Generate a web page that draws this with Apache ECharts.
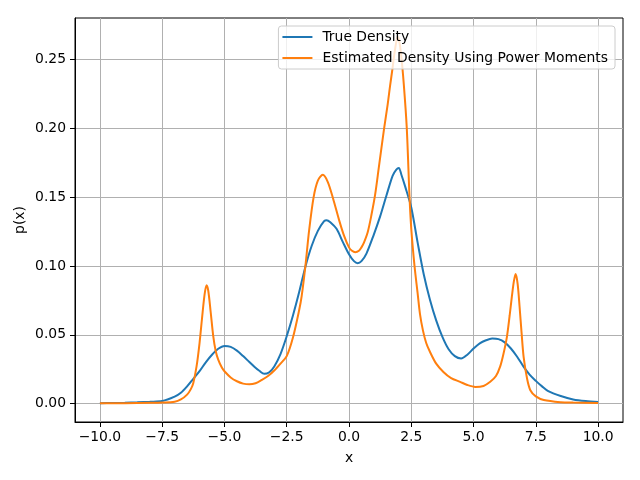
<!DOCTYPE html>
<html lang="en">
<head>
    <meta charset="UTF-8">
    <title>True vs Estimated Density</title>
    <script src="https://cdn.jsdelivr.net/npm/echarts@6/dist/echarts.min.js"></script>
    <style>
        html, body { margin: 0; padding: 0; background: #fff; }
        #chart { width: 640px; height: 480px; }
    </style>
</head>
<body>
<div id="chart"></div>
<script>
    // tick positions
    var xTicks = [-10, -7.5, -5, -2.5, 0, 2.5, 5, 7.5, 10];
    var yTicks = [0, 0.05, 0.10, 0.15, 0.20, 0.25];

    // True Density
    var trueX = [-10, -9.5, -9, -8.5, -8, -7.5, -7, -6.75, -6.5, -6.25, -6, -5.75, -5.5, -5.25, -5,
        -4.75, -4.5, -4.25, -4, -3.8, -3.6, -3.4, -3.2, -3, -2.75, -2.5, -2.25, -2, -1.75, -1.5,
        -1.25, -1, -0.9, -0.75, -0.5, -0.25, 0, 0.2, 0.35, 0.5, 0.7, 1, 1.25, 1.5, 1.75, 1.9, 2, 2.1,
        2.25, 2.5, 2.75, 3, 3.25, 3.5, 3.75, 4, 4.25, 4.5, 4.75, 5, 5.25, 5.5, 5.75, 6, 6.25, 6.5,
        6.75, 7, 7.25, 7.5, 7.75, 8, 8.5, 9, 9.5, 10];
    var trueY = [0.0003, 0.0004, 0.0006, 0.0009, 0.0013, 0.0018, 0.005, 0.0078, 0.0125, 0.018,
        0.0235, 0.030, 0.0355, 0.0398, 0.0418, 0.0412, 0.0385, 0.0345, 0.0302, 0.0268, 0.0238,
        0.0216, 0.0228, 0.027, 0.036, 0.049, 0.064, 0.081, 0.0995, 0.1145, 0.1255, 0.1325, 0.1333,
        0.1318, 0.127, 0.1175, 0.1085, 0.1035, 0.102, 0.1035, 0.109, 0.123, 0.136, 0.151, 0.1655,
        0.170, 0.1712, 0.1665, 0.158, 0.1425, 0.1175, 0.094, 0.0755, 0.0605, 0.0485, 0.0395, 0.0345,
        0.0328, 0.0355, 0.040, 0.0438, 0.046, 0.0472, 0.0468, 0.0445, 0.040, 0.034, 0.027, 0.021,
        0.0165, 0.0125, 0.009, 0.0055, 0.003, 0.0018, 0.0012];

    // Estimated Density Using Power Moments
    var estX = [-10, -9, -8, -7.5, -7, -6.75, -6.5, -6.35, -6.25, -6.12, -6, -5.9, -5.8, -5.72, -5.65,
        -5.55, -5.45, -5.35, -5.25, -5.1, -5, -4.75, -4.5, -4.25, -4, -3.75, -3.5, -3.25, -3, -2.75,
        -2.5, -2.25, -2, -1.9, -1.75, -1.6, -1.42, -1.25, -1.05, -0.85, -0.64, -0.4, -0.2, 0, 0.12,
        0.25, 0.4, 0.5, 0.6, 0.75, 0.9, 1.05, 1.2, 1.41, 1.55, 1.65, 1.75, 1.82, 1.9, 1.95, 2, 2.09,
        2.2, 2.32, 2.43, 2.5, 2.63, 2.75, 2.85, 2.97, 3.1, 3.24, 3.5, 3.79, 4.1, 4.46, 4.75, 5.07,
        5.4, 5.67, 5.9, 6.07, 6.2, 6.34, 6.45, 6.54, 6.62, 6.69, 6.77, 6.85, 6.93, 7.01, 7.15, 7.28,
        7.5, 7.82, 8.5, 9, 10];
    var estY = [0.0002, 0.0003, 0.0005, 0.0007, 0.0013, 0.003, 0.0065, 0.0105, 0.015, 0.027, 0.044,
        0.062, 0.079, 0.086, 0.082, 0.066, 0.049, 0.038, 0.032, 0.026, 0.0235, 0.019, 0.0162,
        0.0145, 0.014, 0.0148, 0.0172, 0.020, 0.024, 0.029, 0.0345, 0.048, 0.068, 0.078, 0.100,
        0.126, 0.150, 0.162, 0.1662, 0.161, 0.149, 0.1335, 0.122, 0.1135, 0.111, 0.110, 0.111,
        0.1135, 0.117, 0.1245, 0.137, 0.152, 0.172, 0.200, 0.217, 0.231, 0.244, 0.254, 0.263,
        0.2665, 0.265, 0.254, 0.232, 0.200, 0.150, 0.127, 0.100, 0.081, 0.065, 0.053, 0.044, 0.038,
        0.029, 0.023, 0.0185, 0.0158, 0.0135, 0.0121, 0.0128, 0.0158, 0.020, 0.027, 0.036, 0.0485,
        0.064, 0.078, 0.089, 0.0942, 0.087, 0.070, 0.051, 0.034, 0.018, 0.0097, 0.0052, 0.0026,
        0.001, 0.0007, 0.0004];

    function pairs(xs, ys) {
        return xs.map(function (x, i) { return [x, ys[i]]; });
    }

    var chart = echarts.init(document.getElementById('chart'));
    var font = 'DejaVu Sans';

    var option = {
        animation: false,
        textStyle: { fontFamily: font },
        grid: {
            left: 75, right: 17, top: 18, bottom: 58,
            show: true, borderColor: '#000', borderWidth: 1
        },
        legend: {
            orient: 'vertical',
            right: 25, top: 26,
            icon: 'rect',
            itemWidth: 30, itemHeight: 2,
            itemGap: 7,
            padding: [4, 7, 4, 4],
            backgroundColor: 'rgba(255,255,255,0.8)',
            borderColor: '#cccccc', borderWidth: 1, borderRadius: 3,
            textStyle: { fontSize: 13.9, color: '#000', fontFamily: font, padding: [0, 0, 0, 5] },
            data: ['True Density', 'Estimated Density Using Power Moments']
        },
        xAxis: {
            type: 'value',
            min: -11, max: 11,
            name: 'x', nameLocation: 'middle', nameGap: 29,
            nameTextStyle: { fontSize: 13.9, color: '#000' },
            axisLine: { onZero: false, lineStyle: { color: '#000' } },
            axisTick: { customValues: xTicks, length: 5, lineStyle: { color: '#000' } },
            axisLabel: {
                customValues: xTicks, margin: 8, fontSize: 13.9, color: '#000',
                formatter: function (v) { return v.toFixed(1).replace('-', '\u2212'); }
            },
            splitLine: { show: true, customValues: xTicks, lineStyle: { color: '#b0b0b0', width: 1 } }
        },
        yAxis: {
            type: 'value',
            min: -0.0134, max: 0.2802,
            name: 'p(x)', nameLocation: 'middle', nameGap: 48, nameMoveOverlap: false,
            nameTextStyle: { fontSize: 13.9, color: '#000' },
            axisLine: { show: true, onZero: false, lineStyle: { color: '#000' } },
            axisTick: { show: true, customValues: yTicks, length: 5, lineStyle: { color: '#000' } },
            axisLabel: {
                customValues: yTicks, margin: 9, fontSize: 13.9, color: '#000',
                formatter: function (v) { return v.toFixed(2); }
            },
            splitLine: { show: true, customValues: yTicks, lineStyle: { color: '#b0b0b0', width: 1 } }
        },
        series: [
            {
                name: 'True Density',
                type: 'line',
                data: pairs(trueX, trueY),
                showSymbol: false,
                smooth: 0.3,
                color: '#1f77b4',
                lineStyle: { width: 2 }
            },
            {
                name: 'Estimated Density Using Power Moments',
                type: 'line',
                data: pairs(estX, estY),
                showSymbol: false,
                smooth: 0.3,
                color: '#ff7f0e',
                lineStyle: { width: 2 }
            }
        ]
    };

    chart.setOption(option);
</script>
</body>
</html>
